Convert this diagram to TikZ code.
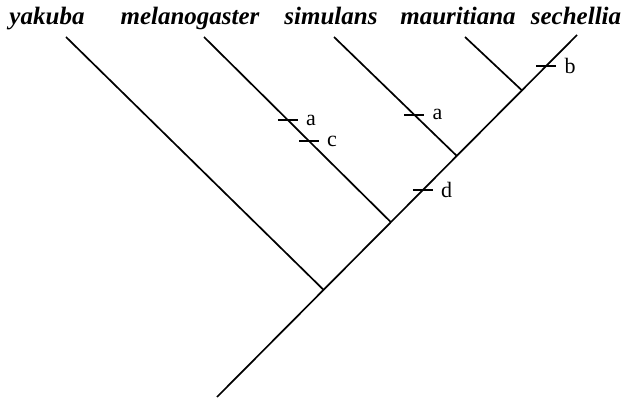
\documentclass[tikz,border=0pt]{standalone}
\usepackage{fontspec}
\setmainfont{Liberation Serif}
\usetikzlibrary{calc}
\tikzset{
  x = 0.5pt, y = -0.5pt,
  taxon/.style = {anchor = base, inner sep = 0pt,
    font = \fontsize{12.5}{14}\selectfont\bfseries\itshape},
  branch/.style = {line width = 0.85pt},
  apomorphy/.style = {line width = 1.2pt},
  trait/.style = {right, inner sep = 3.5pt, font = \fontsize{11}{13}\selectfont}
}

\begin{document}
\begin{tikzpicture}
\useasboundingbox (0,0) rectangle (624,400);

%% Taxa
\node [taxon] (yak) at (47,25) {yakuba};
\node [taxon] (mel) at (190,25) {melanogaster};
\node [taxon] (sim) at (331,25) {simulans};
\node [taxon] (mau) at (458,25) {mauritiana};
\node [taxon] (sec) at (576,25) {sechellia};

%% Tips and root
\coordinate (yak-tip) at (66,37);
\coordinate (mel-tip) at (204,37);
\coordinate (sim-tip) at (334,37);
\coordinate (mau-tip) at (465,37);
\coordinate (sec-tip) at (577,35);
\coordinate (root) at (217,397);

%% Junctions on the stem
\coordinate (j1) at ($ (root) !0.296! (sec-tip) $);
\coordinate (j2) at ($ (root) !0.483! (sec-tip) $);
\coordinate (j3) at ($ (root) !0.666! (sec-tip) $);
\coordinate (j4) at ($ (root) !0.847! (sec-tip) $);

%% Branches
\draw [branch] (root) -- (sec-tip);
\draw [branch] (yak-tip) -- (j1);
\draw [branch] (mel-tip) -- (j2);
\draw [branch] (sim-tip) -- (j3);
\draw [branch] (mau-tip) -- (j4);

%% Character changes
\coordinate (mel-a) at ($ (mel-tip) !0.449! (j2) $);
\coordinate (mel-c) at ($ (mel-tip) !0.562! (j2) $);
\coordinate (sim-a) at ($ (sim-tip) !0.655! (j3) $);
\coordinate (stem-d) at ($ (root) !0.572! (sec-tip) $);
\coordinate (stem-b) at ($ (root) !0.915! (sec-tip) $);

\draw [apomorphy] ($ (mel-a) + (-10,0) $) -- ($ (mel-a) + (10,0) $) node [trait] (la1) {a};
\draw [apomorphy] ($ (mel-c) + (-10,0) $) -- ($ (mel-c) + (10,0) $) node [trait] (lc) {c};
\draw [apomorphy] ($ (sim-a) + (-10,0) $) -- ($ (sim-a) + (10,0) $) node [trait] (la2) {a};
\draw [apomorphy] ($ (stem-d) + (-10,0) $) -- ($ (stem-d) + (10,0) $) node [trait] (ld) {d};
\draw [apomorphy] ($ (stem-b) + (-10,0) $) -- ($ (stem-b) + (10,0) $) node [trait] (lb) {b};

\end{tikzpicture}
\end{document}
